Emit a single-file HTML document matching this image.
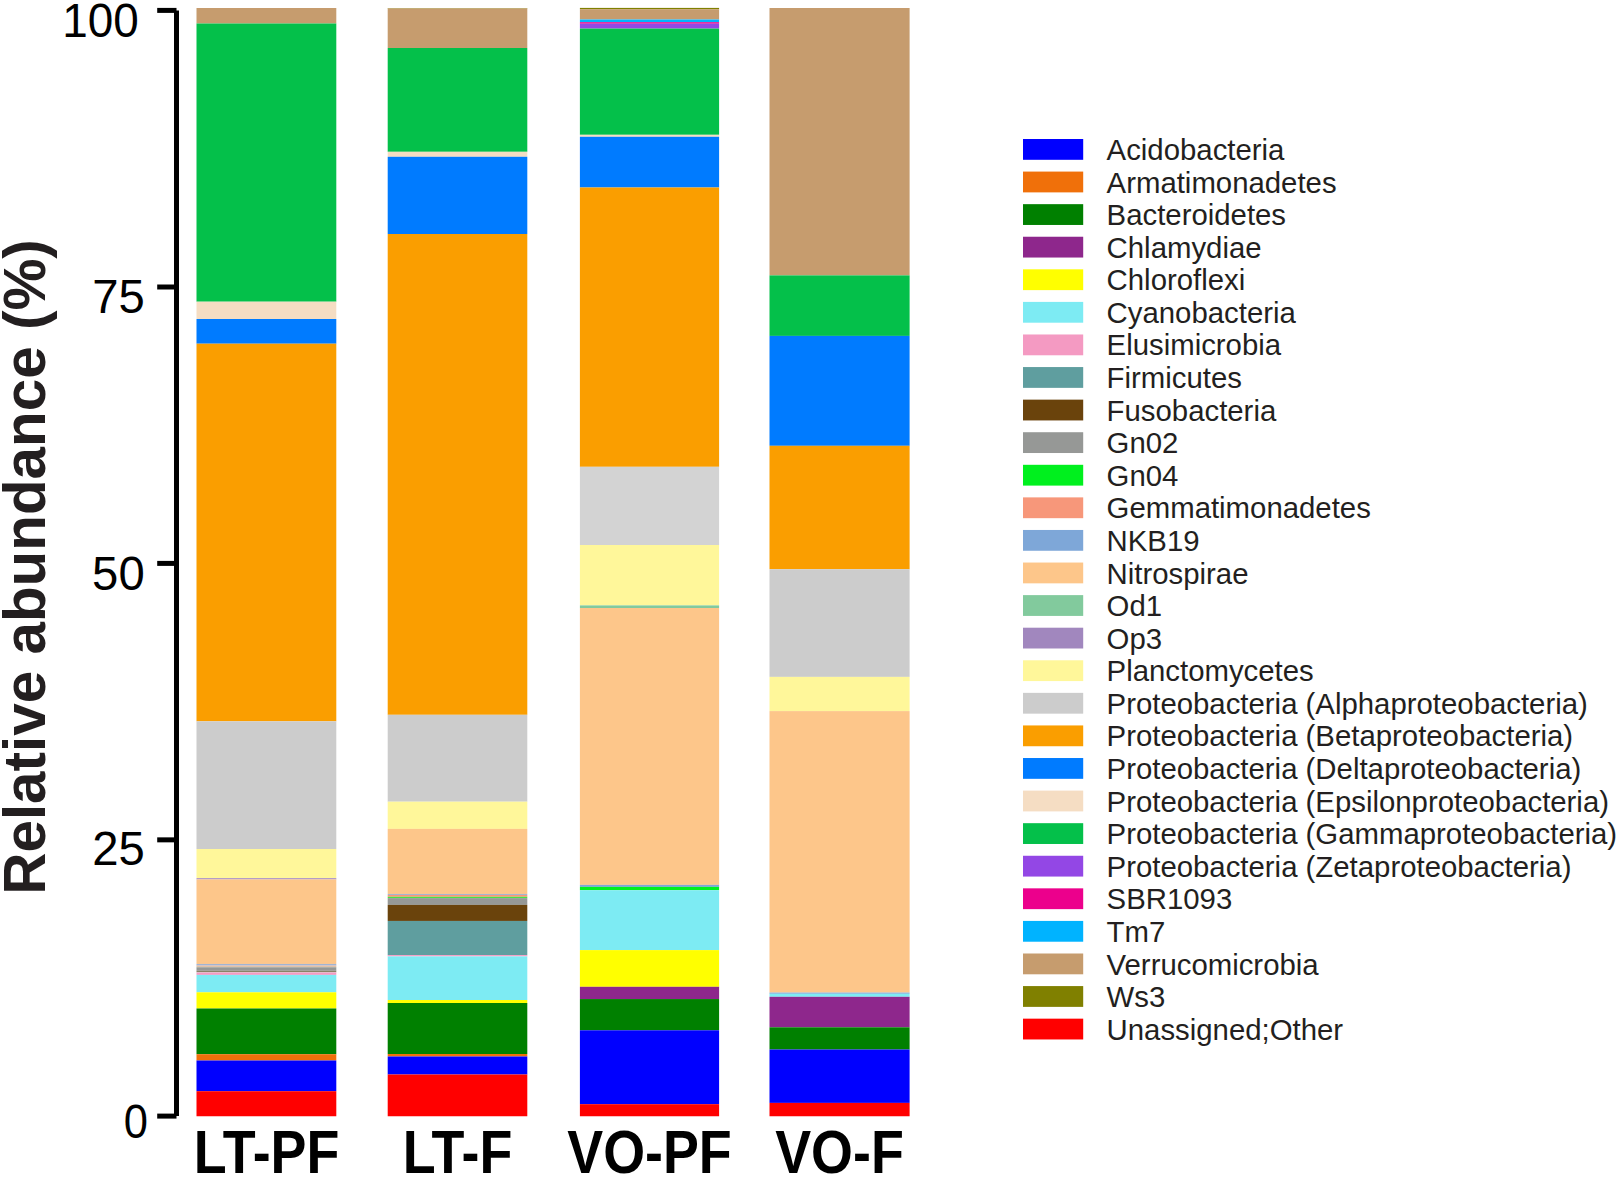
<!DOCTYPE html>
<html lang="en"><head><meta charset="utf-8"><title>Relative abundance</title>
<style>
html,body{margin:0;padding:0;background:#fff;}
body{width:1618px;height:1178px;overflow:hidden;}
svg{display:block;}
text{font-family:"Liberation Sans",sans-serif;}
.tk{font-size:47.3px;fill:#000;text-anchor:end;}
.xl{font-size:61.4px;font-weight:bold;fill:#000;text-anchor:middle;}
.lg{font-size:29.35px;fill:#231f20;}
.yt{font-size:58.4px;font-weight:bold;fill:#231f20;}
</style></head><body>
<svg width="1618" height="1178" viewBox="0 0 1618 1178">
<rect width="1618" height="1178" fill="#fff"/>

<g>
<rect x="196.5" y="8.0" width="139.80" height="15.50" fill="#C69C6E"/>
<rect x="196.5" y="23.5" width="139.80" height="278.20" fill="#04C04A"/>
<rect x="196.5" y="301.7" width="139.80" height="17.30" fill="#F5DDC3"/>
<rect x="196.5" y="319.0" width="139.80" height="24.70" fill="#007BFF"/>
<rect x="196.5" y="343.7" width="139.80" height="377.60" fill="#FA9E00"/>
<rect x="196.5" y="721.3" width="139.80" height="127.70" fill="#CCCCCC"/>
<rect x="196.5" y="849.0" width="139.80" height="29.20" fill="#FFF79A"/>
<rect x="196.5" y="878.2" width="139.80" height="1.20" fill="#A187BE"/>
<rect x="196.5" y="879.4" width="139.80" height="84.55" fill="#FDC68A"/>
<rect x="196.5" y="963.95" width="139.80" height="1.65" fill="#A0B4D4"/>
<rect x="196.5" y="965.6" width="139.80" height="1.20" fill="#EDB49A"/>
<rect x="196.5" y="966.8" width="139.80" height="0.50" fill="#9FBF8F"/>
<rect x="196.5" y="967.3" width="139.80" height="3.50" fill="#969896"/>
<rect x="196.5" y="970.8" width="139.80" height="1.20" fill="#8A8264"/>
<rect x="196.5" y="972.0" width="139.80" height="0.50" fill="#B9B7B0"/>
<rect x="196.5" y="972.5" width="139.80" height="2.40" fill="#F49AC2"/>
<rect x="196.5" y="974.9" width="139.80" height="17.40" fill="#7DEBF3"/>
<rect x="196.5" y="992.3" width="139.80" height="16.20" fill="#FFFF00"/>
<rect x="196.5" y="1008.5" width="139.80" height="45.70" fill="#008000"/>
<rect x="196.5" y="1054.2" width="139.80" height="6.30" fill="#F0700A"/>
<rect x="196.5" y="1060.5" width="139.80" height="30.70" fill="#0000FF"/>
<rect x="196.5" y="1091.2" width="139.80" height="25.05" fill="#FF0000"/>
</g>
<g>
<rect x="387.7" y="8.0" width="139.60" height="0.50" fill="#808000"/>
<rect x="387.7" y="8.5" width="139.60" height="39.50" fill="#C69C6E"/>
<rect x="387.7" y="48.0" width="139.60" height="103.80" fill="#04C04A"/>
<rect x="387.7" y="151.8" width="139.60" height="5.00" fill="#F5DDC3"/>
<rect x="387.7" y="156.8" width="139.60" height="77.20" fill="#007BFF"/>
<rect x="387.7" y="234.0" width="139.60" height="480.80" fill="#FA9E00"/>
<rect x="387.7" y="714.8" width="139.60" height="86.90" fill="#CCCCCC"/>
<rect x="387.7" y="801.7" width="139.60" height="27.20" fill="#FFF79A"/>
<rect x="387.7" y="828.9" width="139.60" height="65.05" fill="#FDC68A"/>
<rect x="387.7" y="893.95" width="139.60" height="1.05" fill="#A4B6D2"/>
<rect x="387.7" y="895.0" width="139.60" height="1.80" fill="#F7977A"/>
<rect x="387.7" y="896.8" width="139.60" height="1.30" fill="#45E545"/>
<rect x="387.7" y="898.1" width="139.60" height="6.80" fill="#969896"/>
<rect x="387.7" y="904.9" width="139.60" height="16.05" fill="#6A430C"/>
<rect x="387.7" y="920.95" width="139.60" height="34.15" fill="#5F9E9F"/>
<rect x="387.7" y="955.1" width="139.60" height="1.30" fill="#F49AC2"/>
<rect x="387.7" y="956.4" width="139.60" height="43.60" fill="#7DEBF3"/>
<rect x="387.7" y="1000.0" width="139.60" height="3.00" fill="#FFFF00"/>
<rect x="387.7" y="1003.0" width="139.60" height="51.00" fill="#008000"/>
<rect x="387.7" y="1054.0" width="139.60" height="2.50" fill="#F0700A"/>
<rect x="387.7" y="1056.5" width="139.60" height="18.00" fill="#0000FF"/>
<rect x="387.7" y="1074.5" width="139.60" height="41.75" fill="#FF0000"/>
</g>
<g>
<rect x="579.9" y="7.9" width="139.20" height="1.30" fill="#808000"/>
<rect x="579.9" y="9.2" width="139.20" height="10.30" fill="#C69C6E"/>
<rect x="579.9" y="19.5" width="139.20" height="2.70" fill="#00B3FF"/>
<rect x="579.9" y="22.2" width="139.20" height="1.50" fill="#EC008C"/>
<rect x="579.9" y="23.7" width="139.20" height="4.90" fill="#9347E5"/>
<rect x="579.9" y="28.6" width="139.20" height="106.20" fill="#04C04A"/>
<rect x="579.9" y="134.8" width="139.20" height="2.00" fill="#F5DDC3"/>
<rect x="579.9" y="136.8" width="139.20" height="50.70" fill="#007BFF"/>
<rect x="579.9" y="187.5" width="139.20" height="279.30" fill="#FA9E00"/>
<rect x="579.9" y="466.8" width="139.20" height="78.20" fill="#D3D3D3"/>
<rect x="579.9" y="545.0" width="139.20" height="60.40" fill="#FFF79A"/>
<rect x="579.9" y="605.4" width="139.20" height="2.60" fill="#82CA9D"/>
<rect x="579.9" y="608.0" width="139.20" height="276.90" fill="#FDC68A"/>
<rect x="579.9" y="884.9" width="139.20" height="2.00" fill="#7EA7D8"/>
<rect x="579.9" y="886.9" width="139.20" height="3.30" fill="#00F01E"/>
<rect x="579.9" y="890.2" width="139.20" height="59.90" fill="#7DEBF3"/>
<rect x="579.9" y="950.1" width="139.20" height="36.70" fill="#FFFF00"/>
<rect x="579.9" y="986.8" width="139.20" height="12.25" fill="#8E278C"/>
<rect x="579.9" y="999.05" width="139.20" height="31.25" fill="#008000"/>
<rect x="579.9" y="1030.3" width="139.20" height="73.90" fill="#0000FF"/>
<rect x="579.9" y="1104.2" width="139.20" height="12.05" fill="#FF0000"/>
</g>
<g>
<rect x="769.5" y="8.0" width="140.10" height="267.40" fill="#C69C6E"/>
<rect x="769.5" y="275.4" width="140.10" height="60.50" fill="#04C04A"/>
<rect x="769.5" y="335.9" width="140.10" height="109.90" fill="#007BFF"/>
<rect x="769.5" y="445.8" width="140.10" height="123.40" fill="#FA9E00"/>
<rect x="769.5" y="569.2" width="140.10" height="107.70" fill="#CCCCCC"/>
<rect x="769.5" y="676.9" width="140.10" height="34.20" fill="#FFF79A"/>
<rect x="769.5" y="711.1" width="140.10" height="281.50" fill="#FDC68A"/>
<rect x="769.5" y="992.6" width="140.10" height="1.20" fill="#7EA7D8"/>
<rect x="769.5" y="993.8" width="140.10" height="3.00" fill="#7DEBF3"/>
<rect x="769.5" y="996.8" width="140.10" height="30.50" fill="#8E278C"/>
<rect x="769.5" y="1027.3" width="140.10" height="22.20" fill="#008000"/>
<rect x="769.5" y="1049.5" width="140.10" height="53.40" fill="#0000FF"/>
<rect x="769.5" y="1102.9" width="140.10" height="13.35" fill="#FF0000"/>
</g>
<g stroke="#000" stroke-width="5" fill="none"><line x1="176.5" y1="10.4" x2="176.5" y2="1116.1"/>
<line x1="157.2" y1="10.4" x2="176.5" y2="10.4"/>
<line x1="157.2" y1="287.0" x2="176.5" y2="287.0"/>
<line x1="157.2" y1="563.4" x2="176.5" y2="563.4"/>
<line x1="157.2" y1="839.85" x2="176.5" y2="839.85"/>
<line x1="157.2" y1="1116.1" x2="176.5" y2="1116.1"/>
</g>
<text class="tk" transform="translate(138.7 36.6) scale(0.97 1.013)">100</text>
<text class="tk" transform="translate(144.9 313.3) scale(1 1.013)">75</text>
<text class="tk" transform="translate(144.7 589.6) scale(1 1.013)">50</text>
<text class="tk" transform="translate(144.9 865.4) scale(1 1.013)">25</text>
<text class="tk" transform="translate(148.0 1138.0) scale(0.92 1.013)">0</text>
<text class="xl" transform="translate(266.6 1172.6) scale(0.877 1)">LT-PF</text>
<text class="xl" transform="translate(457.5 1172.6) scale(0.877 1)">LT-F</text>
<text class="xl" transform="translate(649.5 1172.6) scale(0.877 1)">VO-PF</text>
<text class="xl" transform="translate(839.5 1172.6) scale(0.877 1)">VO-F</text>
<text class="yt" transform="translate(45.0 567) rotate(-90) scale(1 1.012)" text-anchor="middle">Relative abundance (%)</text>
<rect x="1023" y="139.00" width="60.2" height="20.8" fill="#0000FF"/>
<text class="lg" transform="translate(1106.6 160.00) scale(1 1)">Acidobacteria</text>
<rect x="1023" y="171.58" width="60.2" height="20.8" fill="#F0700A"/>
<text class="lg" transform="translate(1106.6 192.58) scale(1 1)">Armatimonadetes</text>
<rect x="1023" y="204.16" width="60.2" height="20.8" fill="#008000"/>
<text class="lg" transform="translate(1106.6 225.16) scale(1 1)">Bacteroidetes</text>
<rect x="1023" y="236.74" width="60.2" height="20.8" fill="#8E278C"/>
<text class="lg" transform="translate(1106.6 257.74) scale(1 1)">Chlamydiae</text>
<rect x="1023" y="269.32" width="60.2" height="20.8" fill="#FFFF00"/>
<text class="lg" transform="translate(1106.6 290.32) scale(1 1)">Chloroflexi</text>
<rect x="1023" y="301.90" width="60.2" height="20.8" fill="#7DEBF3"/>
<text class="lg" transform="translate(1106.6 322.90) scale(1 1)">Cyanobacteria</text>
<rect x="1023" y="334.48" width="60.2" height="20.8" fill="#F49AC2"/>
<text class="lg" transform="translate(1106.6 355.48) scale(1 1)">Elusimicrobia</text>
<rect x="1023" y="367.06" width="60.2" height="20.8" fill="#5F9E9F"/>
<text class="lg" transform="translate(1106.6 388.06) scale(1 1)">Firmicutes</text>
<rect x="1023" y="399.64" width="60.2" height="20.8" fill="#6A430C"/>
<text class="lg" transform="translate(1106.6 420.64) scale(1 1)">Fusobacteria</text>
<rect x="1023" y="432.22" width="60.2" height="20.8" fill="#969896"/>
<text class="lg" transform="translate(1106.6 453.22) scale(1 1)">Gn02</text>
<rect x="1023" y="464.80" width="60.2" height="20.8" fill="#00F01E"/>
<text class="lg" transform="translate(1106.6 485.80) scale(1 1)">Gn04</text>
<rect x="1023" y="497.38" width="60.2" height="20.8" fill="#F7977A"/>
<text class="lg" transform="translate(1106.6 518.38) scale(1 1)">Gemmatimonadetes</text>
<rect x="1023" y="529.96" width="60.2" height="20.8" fill="#7EA7D8"/>
<text class="lg" transform="translate(1106.6 550.96) scale(1 1)">NKB19</text>
<rect x="1023" y="562.54" width="60.2" height="20.8" fill="#FDC68A"/>
<text class="lg" transform="translate(1106.6 583.54) scale(1 1)">Nitrospirae</text>
<rect x="1023" y="595.12" width="60.2" height="20.8" fill="#82CA9D"/>
<text class="lg" transform="translate(1106.6 616.12) scale(1 1)">Od1</text>
<rect x="1023" y="627.70" width="60.2" height="20.8" fill="#A187BE"/>
<text class="lg" transform="translate(1106.6 648.70) scale(1 1)">Op3</text>
<rect x="1023" y="660.28" width="60.2" height="20.8" fill="#FFF79A"/>
<text class="lg" transform="translate(1106.6 681.28) scale(1 1)">Planctomycetes</text>
<rect x="1023" y="692.86" width="60.2" height="20.8" fill="#CCCCCC"/>
<text class="lg" transform="translate(1106.6 713.86) scale(1 1)">Proteobacteria (Alphaproteobacteria)</text>
<rect x="1023" y="725.44" width="60.2" height="20.8" fill="#FA9E00"/>
<text class="lg" transform="translate(1106.6 746.44) scale(1 1)">Proteobacteria (Betaproteobacteria)</text>
<rect x="1023" y="758.02" width="60.2" height="20.8" fill="#007BFF"/>
<text class="lg" transform="translate(1106.6 779.02) scale(1 1)">Proteobacteria (Deltaproteobacteria)</text>
<rect x="1023" y="790.60" width="60.2" height="20.8" fill="#F5DDC3"/>
<text class="lg" transform="translate(1106.6 811.60) scale(1 1)">Proteobacteria (Epsilonproteobacteria)</text>
<rect x="1023" y="823.18" width="60.2" height="20.8" fill="#04C04A"/>
<text class="lg" transform="translate(1106.6 844.18) scale(1 1)">Proteobacteria (Gammaproteobacteria)</text>
<rect x="1023" y="855.76" width="60.2" height="20.8" fill="#9347E5"/>
<text class="lg" transform="translate(1106.6 876.76) scale(1 1)">Proteobacteria (Zetaproteobacteria)</text>
<rect x="1023" y="888.34" width="60.2" height="20.8" fill="#EC008C"/>
<text class="lg" transform="translate(1106.6 909.34) scale(1 1)">SBR1093</text>
<rect x="1023" y="920.92" width="60.2" height="20.8" fill="#00B3FF"/>
<text class="lg" transform="translate(1106.6 941.92) scale(1 1)">Tm7</text>
<rect x="1023" y="953.50" width="60.2" height="20.8" fill="#C69C6E"/>
<text class="lg" transform="translate(1106.6 974.50) scale(1 1)">Verrucomicrobia</text>
<rect x="1023" y="986.08" width="60.2" height="20.8" fill="#808000"/>
<text class="lg" transform="translate(1106.6 1007.08) scale(1 1)">Ws3</text>
<rect x="1023" y="1018.66" width="60.2" height="20.8" fill="#FF0000"/>
<text class="lg" transform="translate(1106.6 1039.66) scale(1 1)">Unassigned;Other</text>
</svg></body></html>
